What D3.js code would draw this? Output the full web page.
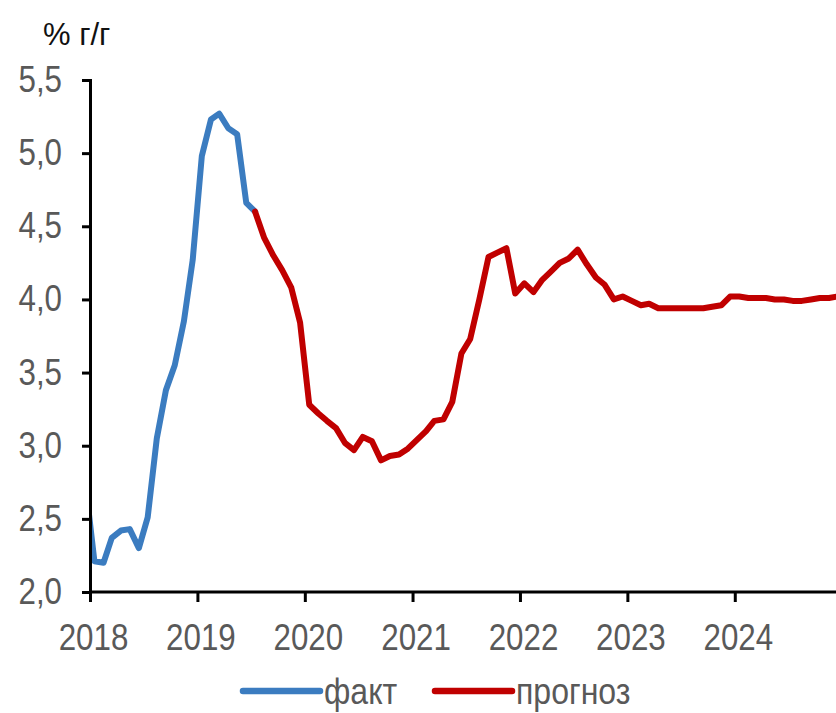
<!DOCTYPE html>
<html>
<head>
<meta charset="utf-8">
<script src="https://cdn.jsdelivr.net/npm/d3@7"></script>
<style>
    body { margin: 0; background: #fff; }
    svg { display: block; }
    text { font-family: "Liberation Sans Narrow", "Arial Narrow", "Liberation Sans", Arial, sans-serif; }
</style>
</head>
<body>
<script>
// monthly values, % y/y
var factStart = "2017-12";
var factValues = [2.75, 2.21, 2.20, 2.37, 2.42, 2.43, 2.30, 2.51, 3.05, 3.38, 3.55, 3.85,
    4.27, 4.98, 5.23, 5.27, 5.17, 5.13, 4.66, 4.60];

var forecastStart = "2019-07";
var forecastValues = [4.60, 4.42, 4.30, 4.20, 4.08, 3.84,
    3.28, 3.22, 3.17, 3.12, 3.02, 2.97, 3.06, 3.03, 2.90, 2.93, 2.94, 2.98,
    3.04, 3.10, 3.17, 3.18, 3.30, 3.63, 3.73, 4.00, 4.29, 4.32, 4.35, 4.04,
    4.11, 4.05, 4.13, 4.19, 4.25, 4.28, 4.34, 4.24, 4.15, 4.10, 4.00, 4.02,
    3.99, 3.96, 3.97, 3.94, 3.94, 3.94, 3.94, 3.94, 3.94, 3.95, 3.96, 4.02,
    4.02, 4.01, 4.01, 4.01, 4.00, 4.00, 3.99, 3.99, 4.00, 4.01, 4.01, 4.02];

var yearLabels = ["2018", "2019", "2020", "2021", "2022", "2023", "2024"];
var yTicks = [2.0, 2.5, 3.0, 3.5, 4.0, 4.5, 5.0, 5.5];
var legendNames = ["факт", "прогноз"];
var unitLabel = "% г/г";

var width = 836, height = 713;
var plotLeft = 90, plotTop = 80, plotBottom = 592;
var yearWidth = 107.5;

var parseMonth = d3.timeParse("%Y-%m");

function toSeries(start, values) {
    var d0 = parseMonth(start);
    return values.map(function (v, i) {
        // points sit in the middle of each month
        var d = d3.timeMonth.offset(d0, i);
        d = d3.timeDay.offset(d, 15);
        return { date: d, value: v };
    });
}

// squeeze text horizontally, the original uses a narrow face
function narrow(sel, k) {
    sel.each(function () {
        var len = this.getComputedTextLength();
        d3.select(this)
            .attr("textLength", len * k)
            .attr("lengthAdjust", "spacingAndGlyphs");
    });
}

var factData = toSeries(factStart, factValues);
var forecastData = toSeries(forecastStart, forecastValues);

var svg = d3.select("body")
    .append("svg")
    .attr("width", width)
    .attr("height", height);

var xScale = d3.scaleTime()
    .domain([new Date(2018, 0, 1), new Date(2025, 0, 1)])
    .range([plotLeft, plotLeft + 7 * yearWidth]);

var yScale = d3.scaleLinear()
    .domain([2.0, 5.5])
    .range([plotBottom, plotTop]);

svg.append("clipPath")
    .attr("id", "plotClip")
    .append("rect")
    .attr("x", plotLeft)
    .attr("y", 0)
    .attr("width", width - plotLeft)
    .attr("height", plotBottom);

var line = d3.line()
    .x(function (d) { return xScale(d.date); })
    .y(function (d) { return yScale(d.value); });

var colors = ["#3b7cc0", "#c00000"];

svg.append("g")
    .attr("clip-path", "url(#plotClip)")
    .selectAll("path")
    .data([factData, forecastData])
    .enter()
    .append("path")
    .attr("d", line)
    .attr("fill", "none")
    .attr("stroke", function (d, i) { return colors[i]; })
    .attr("stroke-width", 6)
    .attr("stroke-linejoin", "round")
    .attr("stroke-linecap", "round");

// axes
var yAxis = svg.append("g")
    .attr("transform", "translate(" + plotLeft + ",0)")
    .call(d3.axisLeft(yScale)
        .tickValues(yTicks)
        .tickSize(8)
        .tickPadding(20)
        .tickFormat(function (d) { return d3.format(".1f")(d).replace(".", ","); }));

var xAxis = svg.append("g")
    .attr("transform", "translate(0," + plotBottom + ")")
    .call(d3.axisBottom(xScale)
        .tickValues(yearLabels.map(function (y) { return new Date(+y, 0, 1); }))
        .tickSize(10)
        .tickPadding(22)
        .tickFormat(function (d, i) { return yearLabels[i]; }));

xAxis.select(".domain").attr("d", "M" + plotLeft + ",0H" + width);

[yAxis, xAxis].forEach(function (g) {
    g.selectAll(".domain, .tick line")
        .attr("stroke", "#000")
        .attr("stroke-width", 3);
    g.selectAll("text")
        .attr("fill", "#595959")
        .style("font-size", "36px")
        .call(narrow, 0.87);
});
xAxis.selectAll("text").attr("dx", 3);

svg.append("text")
    .attr("x", 43)
    .attr("y", 45)
    .attr("fill", "#111")
    .style("font-size", "31px")
    .text(unitLabel);

// legend
var legendX = [243, 435];
var legend = svg.selectAll(".legend")
    .data(legendNames)
    .enter()
    .append("g")
    .attr("class", "legend")
    .attr("transform", function (d, i) { return "translate(" + legendX[i] + ",691)"; });

legend.append("line")
    .attr("x1", 0)
    .attr("x2", 77)
    .attr("stroke", function (d, i) { return colors[i]; })
    .attr("stroke-width", 6.5)
    .attr("stroke-linecap", "round");

legend.append("text")
    .attr("x", 81)
    .attr("dy", "0.35em")
    .attr("fill", "#595959")
    .style("font-size", "36px")
    .text(function (d) { return d; })
    .call(narrow, 0.89);
</script>
</body>
</html>
